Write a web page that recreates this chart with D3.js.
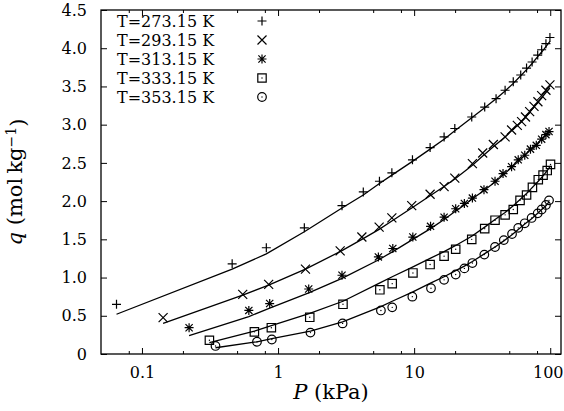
<!DOCTYPE html>
<html>
<head>
<meta charset="utf-8">
<script src="https://cdn.jsdelivr.net/npm/d3@7"></script>
<style>
body { margin: 0; background: #fff; }
svg text { font-family: "DejaVu Serif", serif; fill: #000; }
</style>
</head>
<body>
<div id="chart"></div>
<script>
// measured points (P in kPa, q in mol/kg) and fitted model values at the same P
const pressure273 = [0.065, 0.46, 0.82, 1.56, 2.95, 4.23, 5.56, 6.86, 9.72, 13.1, 16.6, 19.9, 26.5, 33, 40, 46.6, 53.5, 60.7, 67, 73.6, 80.9, 86.5, 93, 99.5];
const uptake273   = [0.65, 1.18, 1.39, 1.65, 1.94, 2.12, 2.26, 2.37, 2.54, 2.70, 2.84, 2.95, 3.10, 3.23, 3.34, 3.45, 3.56, 3.65, 3.74, 3.82, 3.91, 3.98, 4.06, 4.14];
const fit273      = [0.52, 1.11, 1.31, 1.60, 1.91, 2.08, 2.23, 2.34, 2.52, 2.68, 2.81, 2.92, 3.09, 3.22, 3.34, 3.44, 3.54, 3.64, 3.72, 3.80, 3.89, 3.95, 4.02, 4.09];

const pressure293 = [0.143, 0.55, 0.853, 1.59, 2.86, 4.13, 5.53, 6.86, 9.6, 13.1, 16.6, 19.9, 26.8, 31.9, 38.2, 46.6, 52, 57.3, 61.6, 65.8, 70.6, 76, 81.2, 86.5, 93, 99.5];
const uptake293   = [0.475, 0.78, 0.91, 1.11, 1.35, 1.53, 1.66, 1.78, 1.94, 2.09, 2.19, 2.30, 2.49, 2.63, 2.74, 2.84, 2.93, 2.99, 3.04, 3.10, 3.17, 3.24, 3.30, 3.38, 3.45, 3.52];
const fit293      = [0.40, 0.77, 0.90, 1.11, 1.34, 1.50, 1.63, 1.74, 1.91, 2.07, 2.19, 2.29, 2.47, 2.59, 2.71, 2.84, 2.92, 2.99, 3.04, 3.10, 3.16, 3.23, 3.29, 3.35, 3.42, 3.48];

const pressure313 = [0.222, 0.61, 0.868, 1.68, 2.95, 5.46, 6.97, 9.78, 13.2, 16.6, 20.2, 23.4, 26.8, 32.6, 39.3, 45, 52, 58.2, 65, 71.6, 79, 86.5, 93, 98];
const uptake313   = [0.344, 0.57, 0.66, 0.85, 1.03, 1.27, 1.38, 1.53, 1.67, 1.79, 1.90, 1.97, 2.04, 2.15, 2.26, 2.36, 2.45, 2.54, 2.60, 2.68, 2.73, 2.81, 2.87, 2.91];
const fit313      = [0.24, 0.49, 0.60, 0.80, 0.99, 1.23, 1.34, 1.50, 1.64, 1.76, 1.87, 1.95, 2.03, 2.14, 2.25, 2.34, 2.44, 2.52, 2.60, 2.67, 2.74, 2.81, 2.86, 2.90];

const pressure333 = [0.313, 0.67, 0.893, 1.71, 3.0, 5.6, 6.9, 9.8, 13.1, 16.6, 20.2, 26.5, 33, 39.3, 46.6, 53.5, 60, 67, 74, 81.7, 88.6, 95, 100.5];
const uptake333   = [0.18, 0.29, 0.344, 0.48, 0.65, 0.84, 0.92, 1.06, 1.17, 1.28, 1.37, 1.50, 1.64, 1.75, 1.82, 1.89, 2.01, 2.08, 2.18, 2.28, 2.34, 2.40, 2.48];
const fit333      = [0.148, 0.30, 0.37, 0.53, 0.69, 0.93, 1.01, 1.14, 1.25, 1.34, 1.42, 1.54, 1.66, 1.76, 1.85, 1.94, 2.02, 2.10, 2.18, 2.26, 2.33, 2.40, 2.46];

const pressure353 = [0.347, 0.70, 0.90, 1.73, 2.98, 5.7, 6.9, 9.7, 13.3, 16.6, 20.2, 23.4, 26.8, 32.8, 39.3, 45.6, 52.4, 58.2, 65, 73, 80.9, 86.5, 93, 98];
const uptake353   = [0.105, 0.16, 0.19, 0.28, 0.40, 0.57, 0.61, 0.75, 0.86, 0.97, 1.04, 1.12, 1.19, 1.30, 1.40, 1.49, 1.57, 1.65, 1.71, 1.78, 1.84, 1.89, 1.95, 2.01];
const fit353      = [0.082, 0.16, 0.20, 0.30, 0.42, 0.62, 0.69, 0.81, 0.93, 1.01, 1.09, 1.15, 1.21, 1.31, 1.40, 1.48, 1.56, 1.63, 1.70, 1.77, 1.84, 1.89, 1.94, 1.99];

const seriesLabels = ['T=273.15 K', 'T=293.15 K', 'T=313.15 K', 'T=333.15 K', 'T=353.15 K'];
const markerTypes  = ['plus', 'cross', 'star', 'square', 'circle'];

const xMajorTicks = [0.1, 1, 10, 100];
const xMinorTicks = [0.08, 0.2, 0.5, 0.8, 2, 5, 8, 20, 50, 80];
const yTicks = [0, 0.5, 1, 1.5, 2, 2.5, 3, 3.5, 4, 4.5];

const width = 564, height = 411;
const margin = {top: 10, right: 3, bottom: 57, left: 101};
const fontFamily = '"DejaVu Serif", serif';

const series = [
    {p: pressure273, q: uptake273, fit: fit273},
    {p: pressure293, q: uptake293, fit: fit293},
    {p: pressure313, q: uptake313, fit: fit313},
    {p: pressure333, q: uptake333, fit: fit333},
    {p: pressure353, q: uptake353, fit: fit353}
].map(function(s, i) {
    return {
        label: seriesLabels[i],
        marker: markerTypes[i],
        points: s.p.map(function(p, j) { return {p: p, q: s.q[j], fit: s.fit[j]}; })
    };
});

const svg = d3.select('#chart').append('svg')
    .attr('width', width).attr('height', height);

const x = d3.scaleLog().domain([0.05, 120]).range([margin.left, width - margin.right]);
const y = d3.scaleLinear().domain([0, 4.5]).range([height - margin.bottom, margin.top]);

// marker shapes, drawn as strokes like gnuplot point types
function markerPath(type) {
    const s = 4.5;
    if (type === 'plus') return 'M' + (-s) + ',0H' + s + 'M0,' + (-s) + 'V' + s;
    if (type === 'cross') return 'M' + (-s) + ',' + (-s) + 'L' + s + ',' + s + 'M' + (-s) + ',' + s + 'L' + s + ',' + (-s);
    if (type === 'star') {
        const d = 3.6;
        return 'M' + (-s) + ',0H' + s + 'M0,' + (-s) + 'V' + s +
            'M' + (-d) + ',' + (-d) + 'L' + d + ',' + d + 'M' + (-d) + ',' + d + 'L' + d + ',' + (-d);
    }
    if (type === 'square') return 'M-4.2,-4.2H4.2V4.2H-4.2Z';
    return 'M4.3,0A4.3,4.3 0 1,1 -4.3,0A4.3,4.3 0 1,1 4.3,0Z';
}

function drawMarker(g, type) {
    g.append('path')
        .attr('d', markerPath(type))
        .attr('fill', 'none')
        .attr('stroke', '#000')
        .attr('stroke-width', 1.2);
    if (type === 'square' || type === 'circle') {
        g.append('circle').attr('r', 0.7).attr('fill', '#000');
    }
}

const plotLeft = margin.left, plotRight = width - margin.right;
const plotTop = margin.top, plotBottom = height - margin.bottom;

// ticks (inward, mirrored on top and right like gnuplot)
function styleAxis(g) {
    g.attr('font-family', fontFamily).attr('font-size', 16);
    g.select('.domain').remove();
    g.selectAll('line').attr('stroke', '#000').attr('stroke-width', 1);
    g.selectAll('text').attr('fill', '#000');
}

const xAxisG = svg.append('g').attr('transform', 'translate(0,' + plotBottom + ')')
    .call(d3.axisBottom(x).tickValues(xMajorTicks).tickSize(-6).tickPadding(13)
        .tickFormat(function(d) { return d3.format('~g')(d); }))
    .call(styleAxis);
// keep the last label inside the page
xAxisG.selectAll('.tick text').filter(function(d) { return d === 100; })
    .attr('text-anchor', 'end').attr('x', width - 1 - x(100));

svg.append('g').attr('transform', 'translate(0,' + plotBottom + ')')
    .call(d3.axisBottom(x).tickValues(xMinorTicks).tickSize(-3).tickFormat(''))
    .call(styleAxis);
svg.append('g').attr('transform', 'translate(0,' + plotTop + ')')
    .call(d3.axisTop(x).tickValues(xMajorTicks).tickSize(-6).tickFormat(''))
    .call(styleAxis);
svg.append('g').attr('transform', 'translate(0,' + plotTop + ')')
    .call(d3.axisTop(x).tickValues(xMinorTicks).tickSize(-3).tickFormat(''))
    .call(styleAxis);
svg.append('g').attr('transform', 'translate(' + plotLeft + ',0)')
    .call(d3.axisLeft(y).tickValues(yTicks).tickSize(-6).tickPadding(14)
        .tickFormat(function(d) { return d === 0 ? '0' : d3.format('.1f')(d); }))
    .call(styleAxis);
svg.append('g').attr('transform', 'translate(' + plotRight + ',0)')
    .call(d3.axisRight(y).tickValues(yTicks).tickSize(-6).tickFormat(''))
    .call(styleAxis);

// frame
svg.append('rect')
    .attr('x', plotLeft).attr('y', plotTop)
    .attr('width', plotRight - plotLeft).attr('height', plotBottom - plotTop)
    .attr('fill', 'none').attr('stroke', '#000').attr('stroke-width', 1.3);

// fitted lines
const line = d3.line()
    .x(function(d) { return x(d.p); })
    .y(function(d) { return y(d.fit); });

const groups = svg.selectAll('g.series').data(series).enter()
    .append('g').attr('class', 'series');

groups.append('path')
    .attr('d', function(d) { return line(d.points); })
    .attr('fill', 'none')
    .attr('stroke', '#000')
    .attr('stroke-width', 1.3);

groups.each(function(s) {
    d3.select(this).selectAll('g.pt').data(s.points).enter()
        .append('g').attr('class', 'pt')
        .attr('transform', function(d) { return 'translate(' + x(d.p) + ',' + y(d.q) + ')'; })
        .each(function() { drawMarker(d3.select(this), s.marker); });
});

// legend
const legend = svg.append('g').attr('font-family', fontFamily).attr('font-size', 16);
series.forEach(function(s, i) {
    const ly = 21 + i * 19;
    legend.append('text')
        .attr('x', 117).attr('y', ly).attr('dy', '0.35em')
        .text(s.label);
    const mk = legend.append('g').attr('transform', 'translate(262,' + ly + ')');
    drawMarker(mk, s.marker);
});

// axis titles
const xTitle = svg.append('text')
    .attr('x', (plotLeft + plotRight) / 2).attr('y', 399)
    .attr('text-anchor', 'middle')
    .attr('font-size', 21);
xTitle.append('tspan').style('font-style', 'italic').text('P');
xTitle.append('tspan').text(' (kPa)');

const yTitle = svg.append('text')
    .attr('transform', 'translate(22,' + ((plotTop + plotBottom) / 2) + ') rotate(-90)')
    .attr('text-anchor', 'middle')
    .attr('font-size', 21);
yTitle.append('tspan').style('font-style', 'italic').text('q');
yTitle.append('tspan').text(' (mol\u2009kg');
yTitle.append('tspan').attr('dy', '-0.45em').attr('font-size', 14).text('\u22121');
yTitle.append('tspan').attr('dy', '0.45em').text(')');
</script>
</body>
</html>
